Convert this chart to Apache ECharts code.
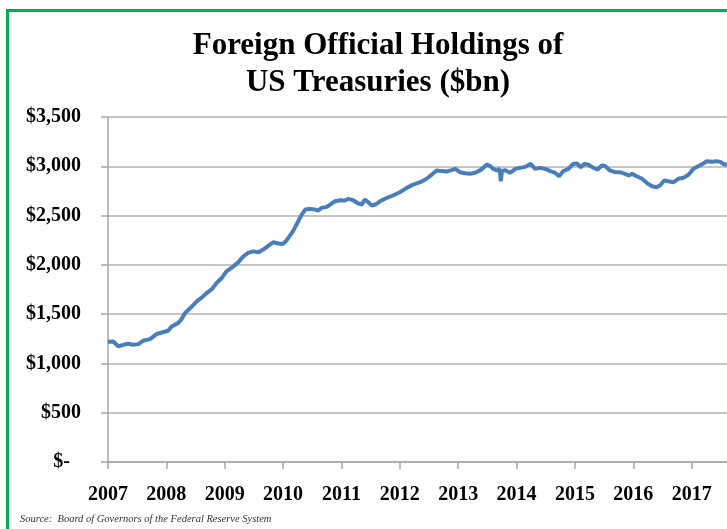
<!DOCTYPE html>
<html>
<head>
<meta charset="utf-8">
<script src="https://cdn.jsdelivr.net/npm/echarts@6/dist/echarts.min.js"></script>
<style>
html,body{margin:0;padding:0;overflow:hidden;background:#fff;}
#chart{width:760px;height:529px;}
</style>
</head>
<body>
<div id="chart"></div>
<script>
const titleText = 'Foreign Official Holdings of\nUS Treasuries ($bn)';
const sourceText = 'Source:  Board of Governors of the Federal Reserve System';
const yearTicks = [2007, 2008, 2009, 2010, 2011, 2012, 2013, 2014, 2015, 2016, 2017];
const dates = [
  2007.00, 2007.09, 2007.18, 2007.26, 2007.35, 2007.43, 2007.52, 2007.60, 2007.72, 2007.83, 2007.92,
  2008.03, 2008.09, 2008.20, 2008.26, 2008.32, 2008.41, 2008.52, 2008.61, 2008.69, 2008.78, 2008.86, 2008.95,
  2009.03, 2009.15, 2009.23, 2009.32, 2009.40, 2009.49, 2009.58, 2009.66, 2009.75, 2009.83, 2009.92,
  2010.00, 2010.06, 2010.15, 2010.20, 2010.26, 2010.32, 2010.38, 2010.46, 2010.55, 2010.60, 2010.66, 2010.75, 2010.83, 2010.89, 2010.98,
  2011.06, 2011.12, 2011.20, 2011.29, 2011.35, 2011.40, 2011.44, 2011.52, 2011.58, 2011.66, 2011.78, 2011.89,
  2012.00, 2012.12, 2012.23, 2012.35, 2012.46, 2012.55, 2012.63, 2012.72, 2012.80, 2012.89, 2012.95,
  2013.03, 2013.12, 2013.20, 2013.29, 2013.38, 2013.43, 2013.49, 2013.55, 2013.60, 2013.66, 2013.71, 2013.73, 2013.75, 2013.80, 2013.89, 2013.98,
  2014.06, 2014.15, 2014.24, 2014.32, 2014.40, 2014.49, 2014.58, 2014.66, 2014.73, 2014.80, 2014.89, 2014.97,
  2015.04, 2015.10, 2015.16, 2015.23, 2015.32, 2015.39, 2015.46, 2015.52, 2015.60, 2015.69, 2015.77, 2015.86, 2015.92, 2015.98,
  2016.06, 2016.15, 2016.23, 2016.32, 2016.40, 2016.46, 2016.53, 2016.60, 2016.69, 2016.77, 2016.86, 2016.95,
  2017.03, 2017.12, 2017.20, 2017.26, 2017.35, 2017.43, 2017.49, 2017.56, 2017.61, 2017.66
];
const holdings = [
  1220, 1222, 1172, 1189, 1199, 1189, 1196, 1230, 1247, 1297, 1314,
  1331, 1375, 1409, 1450, 1511, 1562, 1629, 1670, 1714, 1755, 1816, 1867,
  1934, 1985, 2025, 2086, 2121, 2137, 2127, 2155, 2195, 2229, 2216,
  2212, 2249, 2324, 2375, 2442, 2510, 2561, 2568, 2561, 2551, 2578, 2588, 2622, 2645, 2656,
  2653, 2670, 2656, 2622, 2612, 2663, 2645, 2602, 2612, 2645, 2680, 2706,
  2737, 2781, 2815, 2839, 2873, 2917, 2957, 2951, 2947, 2961, 2974,
  2940, 2930, 2925, 2934, 2961, 2984, 3018, 3002, 2974, 2957, 2974, 2848, 2951, 2961, 2934, 2974,
  2984, 2994, 3025, 2974, 2984, 2974, 2951, 2934, 2899, 2951, 2974, 3025,
  3028, 2990, 3025, 3015, 2984, 2967, 3008, 3002, 2957, 2940, 2940, 2923, 2907, 2923,
  2899, 2873, 2832, 2798, 2788, 2808, 2856, 2848, 2839, 2873, 2883, 2917,
  2974, 3002, 3028, 3052, 3045, 3052, 3045, 3018, 3018, 3015
];

const seriesData = dates.map((d, i) => [d, holdings[i]]);
const serif = '"Palatino Linotype", "Book Antiqua", Palatino, "Liberation Serif", serif';

const chart = echarts.init(document.getElementById('chart'), null, {renderer: 'canvas'});
chart.setOption({
  animation: false,
  backgroundColor: '#ffffff',
  title: {
    text: titleText,
    left: 373,
    top: 22,
    textAlign: 'center',
    textStyle: {
      fontFamily: serif,
      fontWeight: 'bold',
      fontSize: 31,
      lineHeight: 37,
      color: '#000'
    }
  },
  graphic: [
    {
      type: 'rect',
      shape: {x: 7.5, y: 10.5, width: 900, height: 700},
      style: {fill: 'none', stroke: '#00b050', lineWidth: 3},
      silent: true
    },
    {
      type: 'text',
      left: 20,
      top: 514,
      style: {
        text: sourceText,
        font: 'italic 10.5px ' + serif,
        fill: '#333'
      }
    }
  ],
  grid: {left: 108, right: 10, top: 117, bottom: 67, containLabel: false},
  xAxis: {
    type: 'value',
    min: 2007,
    max: 2018,
    interval: 1,
    axisLine: {show: true, lineStyle: {color: '#a6a6a6', width: 1.5}},
    axisTick: {show: true, length: 7, inside: false, lineStyle: {color: '#a6a6a6', width: 1.5}},
    splitLine: {show: false},
    axisLabel: {
      margin: 23,
      fontFamily: serif,
      fontWeight: 'bold',
      fontSize: 20,
      color: '#000',
      formatter: v => yearTicks.includes(v) ? String(v) : ''
    }
  },
  yAxis: {
    type: 'value',
    min: 0,
    max: 3500,
    interval: 500,
    axisLine: {show: true, lineStyle: {color: '#a6a6a6', width: 1.5}},
    axisTick: {show: true, length: 7, inside: false, lineStyle: {color: '#a6a6a6', width: 1.5}},
    splitLine: {show: true, lineStyle: {color: '#b3b3b3', width: 1.5}},
    axisLabel: {
      margin: 27,
      fontFamily: serif,
      fontWeight: 'bold',
      fontSize: 20,
      color: '#000',
      formatter: v => v === 0 ? '{z|$-}' : '$' + v.toLocaleString('en-US'),
      rich: {
        z: {fontFamily: serif, fontWeight: 'bold', fontSize: 20, color: '#000', padding: [0, 11, 0, 0]}
      }
    }
  },
  series: [{
    type: 'line',
    data: seriesData,
    showSymbol: false,
    symbol: 'none',
    smooth: false,
    lineStyle: {color: '#4a7ebb', width: 4},
    clip: true
  }]
});
</script>
</body>
</html>
